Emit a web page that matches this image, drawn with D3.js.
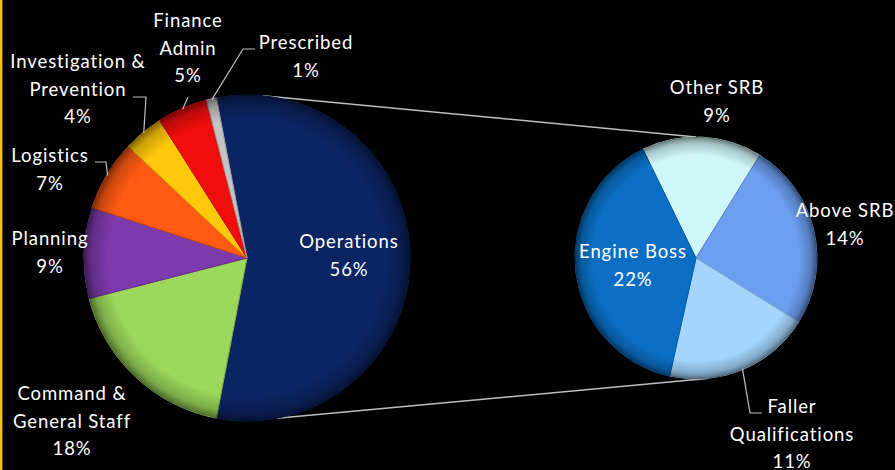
<!DOCTYPE html>
<html>
<head>
<meta charset="utf-8">
<script src="https://cdn.jsdelivr.net/npm/d3@7"></script>
<style>
  html, body { margin: 0; padding: 0; background: #000; }
  svg text { font-family: Lato, "Open Sans", sans-serif; fill: #fff; }
</style>
</head>
<body>
<div id="chart"></div>
<script>
// main pie: slices in clockwise order, starting with the split-out slice
var mainNames  = ["Operations", "Command & General Staff", "Planning", "Logistics",
                  "Investigation & Prevention", "Finance Admin", "Prescribed"];
var mainValues = [56, 18, 9, 7, 4, 5, 1];
var mainColors = ["#0b2462", "#9bd85b", "#7c3aac", "#ff5a12", "#ffc80a", "#f20d0d", "#c4c4c4"];
var mainText   = [["Operations"], ["Command &", "General Staff"], ["Planning"], ["Logistics"],
                  ["Investigation &", "Prevention"], ["Finance", "Admin"], ["Prescribed"]];

// secondary pie: breakdown of Operations (percent of the whole)
var subNames  = ["Other SRB", "Above SRB", "Faller Qualifications", "Engine Boss"];
var subValues = [9, 14, 11, 22];
var subColors = ["#cff6f8", "#6c9ef0", "#a3d5fd", "#0a6fc4"];
var subText   = [["Other SRB"], ["Above SRB"], ["Faller", "Qualifications"], ["Engine Boss"]];

var width = 895, height = 470;
var rad = Math.PI / 180;

var svg = d3.select("#chart")
            .append("svg")
            .attr("width", width)
            .attr("height", height);

// yellow frame edge on the left
svg.append("line")
   .attr("x1", 1.2).attr("x2", 1.2)
   .attr("y1", 0).attr("y2", height)
   .attr("stroke", "#f2c21b")
   .attr("stroke-width", 2.4);

var defs = svg.append("defs");
var bevel = defs.append("radialGradient").attr("id", "bevel");
bevel.append("stop").attr("offset", "0%").attr("stop-color", "#000").attr("stop-opacity", 0);
bevel.append("stop").attr("offset", "85%").attr("stop-color", "#000").attr("stop-opacity", 0);
bevel.append("stop").attr("offset", "95%").attr("stop-color", "#000").attr("stop-opacity", 0.2);
bevel.append("stop").attr("offset", "100%").attr("stop-color", "#000").attr("stop-opacity", 0.5);

// pie geometry
var main = {cx: 247, cy: 258, r: 163};
var sub  = {cx: 696, cy: 258, r: 121};

function polar(p, r, a) {   // a: radians clockwise from 12 o'clock
  return [p.cx + r * Math.sin(a), p.cy - r * Math.cos(a)];
}

var total = d3.sum(mainValues);

// the split slice is centred on 3 o'clock
var mainStart = (90 - mainValues[0] / total * 180) * rad;
var mainPie = d3.pie().sort(null).value(function(d) { return d; })
                .startAngle(mainStart).endAngle(mainStart + 2 * Math.PI);
var subStart = -26 * rad;
var subPie = d3.pie().sort(null).value(function(d) { return d; })
               .startAngle(subStart).endAngle(subStart + 2 * Math.PI);

function drawPie(p, arcs, colors) {
  var g = svg.append("g").attr("transform", "translate(" + p.cx + "," + p.cy + ")");
  var arc = d3.arc().innerRadius(0).outerRadius(p.r);
  g.selectAll("path.slice")
    .data(arcs)
    .enter()
    .append("path")
      .attr("class", "slice")
      .attr("d", arc)
      .attr("fill", function(d, i) { return colors[i]; })
      .attr("stroke", function(d, i) { return d3.color(colors[i]).darker(0.6); })
      .attr("stroke-width", 1);
  // rounded rim shading
  g.append("circle")
    .attr("r", p.r)
    .attr("fill", "url(#bevel)");
  return g;
}

var mainArcs = mainPie(mainValues);
var subArcs  = subPie(subValues);

// connector lines between the two pies
var connMain = [5.6, 169.4], connSub = [0, 174.8];
connMain.forEach(function(a, i) {
  var p1 = polar(main, main.r, a * rad), p2 = polar(sub, sub.r, connSub[i] * rad);
  svg.append("line")
     .attr("x1", p1[0]).attr("y1", p1[1])
     .attr("x2", p2[0]).attr("y2", p2[1])
     .attr("stroke", "#bfbfbf")
     .attr("stroke-width", 1.5);
});

drawPie(main, mainArcs, mainColors);
drawPie(sub, subArcs, subColors);

// label layout: x = text centre, y = first baseline, lead = leader elbow points
var lh = 27.5;
var mainLayout = [
  {x: 349, y: 248},
  {x: 72,  y: 400},
  {x: 50,  y: 245},
  {x: 50,  y: 162, lead: [[106, 162], [95, 162]]},
  {x: 78,  y: 68,  lead: [[146, 97], [133, 97]]},
  {x: 188, y: 27,  lead: [[188, 97]]},
  {x: 306, y: 49,  lead: [[243, 49], [255, 49]]}
];
var subLayout = [
  {x: 717, y: 94},
  {x: 845, y: 217},
  {x: 792, y: 413, lead: [[750, 413], [762, 413]]},
  {x: 633, y: 258}
];

function drawLabels(p, arcs, values, text, layout) {
  arcs.forEach(function(d, i) {
    var L = layout[i];
    if (L.lead) {
      var mid = (d.startAngle + d.endAngle) / 2;
      var pts = [polar(p, p.r - 1, mid)].concat(L.lead);
      svg.append("path")
         .attr("d", d3.line()(pts))
         .attr("fill", "none")
         .attr("stroke", "#bfbfbf")
         .attr("stroke-width", 1.2);
    }
    var lines = text[i].concat([Math.round(values[i] / total * 100) + "%"]);
    var t = svg.append("text")
               .attr("x", L.x)
               .attr("y", L.y)
               .attr("text-anchor", "middle")
               .style("font-size", "18.5px")
               .style("letter-spacing", "0.9px");
    lines.forEach(function(s, k) {
      t.append("tspan")
       .attr("x", L.x)
       .attr("y", L.y + k * lh)
       .text(s);
    });
  });
}

drawLabels(main, mainArcs, mainValues, mainText, mainLayout);
drawLabels(sub, subArcs, subValues, subText, subLayout);
</script>
</body>
</html>
